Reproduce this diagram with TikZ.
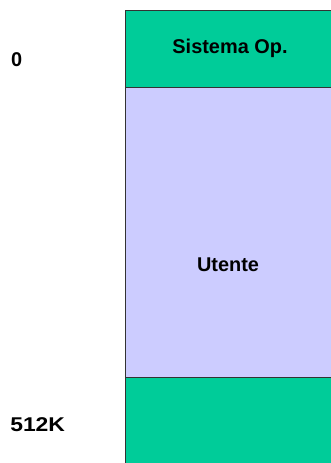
\documentclass[tikz,border=0pt]{standalone}
\usepackage{fontspec}
\setmainfont{Liberation Sans}
\usetikzlibrary{positioning}
\definecolor{osgreen}{HTML}{00CC99}
\definecolor{userlilac}{HTML}{CCCCFF}

\begin{document}
\begin{tikzpicture}[
x=0.03cm, y=-0.03cm,
region/.style={
    rectangle,
    minimum width=6.3cm,
    draw=black!80,
    line width=0.8pt,
    inner sep=0pt,
    outer sep=0pt
},
txt/.style={
    font=\fontsize{17}{20}\selectfont\bfseries,
    inner sep=0pt
}
]
\clip (0,0) rectangle (331,463);
\fill[white] (0,0) rectangle (331,463);

% Memory regions
\node[region,fill=osgreen,minimum height=2.31cm,anchor=north west] (os) at (125,10) {};
\node[region,fill=userlilac,minimum height=8.7cm,below=0pt of os] (user) {};
\node[region,fill=osgreen,minimum height=2.9cm,below=0pt of user] (free) {};

% Texts
\node[txt] (ostext) at (os) {Sistema Op.};
\node[txt] (usertext) at (228,265) {Utente};

% Addresses
\node[txt,anchor=west] (addr0) at (11,60) {0};
\node[txt,anchor=west,xscale=1.15] (addr512) at (10,425) {512K};

\end{tikzpicture}
\end{document}
